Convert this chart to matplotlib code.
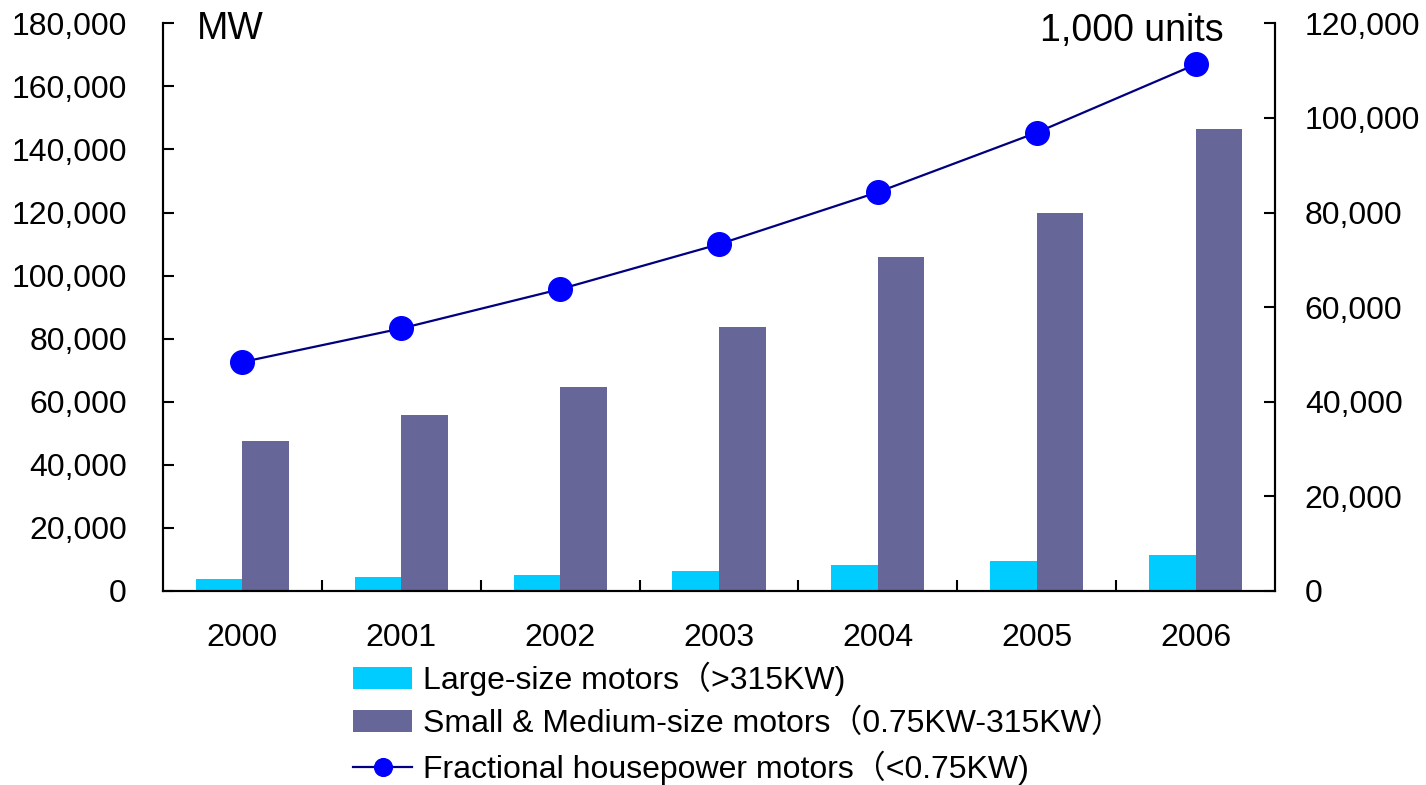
import matplotlib
matplotlib.use("Agg")
import matplotlib.pyplot as plt
import numpy as np
from matplotlib.ticker import FuncFormatter, FixedLocator

plt.rcParams['font.family'] = ['Liberation Sans', 'Noto Sans CJK SC', 'DejaVu Sans']

years = ["2000", "2001", "2002", "2003", "2004", "2005", "2006"]
largeMW = [3800, 4400, 5100, 6300, 8200, 9500, 11400]
smallMediumMW = [47500, 55800, 64700, 83700, 105900, 119800, 146500]
fractionalUnits = [48400, 55500, 63800, 73300, 84300, 96900, 111300]

labelLarge = "Large-size motors（>315KW)"
labelSmall = "Small & Medium-size motors（0.75KW-315KW）"
labelFrac = "Fractional housepower motors（<0.75KW)"

fs = 23
fig = plt.figure(figsize=(14.26, 7.85), dpi=100)
ax = fig.add_axes([163 / 1426, 1 - 591 / 785, (1275 - 163) / 1426, (591 - 23.3) / 785])
ax2 = ax.twinx()

x = np.arange(len(years))
barWidth = 0.293
b1 = ax.bar(x - barWidth / 2, largeMW, width=barWidth, color="#00CCFF", label=labelLarge)
b2 = ax.bar(x + barWidth / 2, smallMediumMW, width=barWidth, color="#666699", label=labelSmall)
l1, = ax2.plot(x, fractionalUnits, color="#000080", linewidth=1.6, marker="o",
               markersize=17, markerfacecolor="#0000FF", markeredgecolor="#0000FF",
               label=labelFrac)

ax.set_xlim(-0.5, len(years) - 0.5)
ax.set_ylim(0, 180000)
ax2.set_ylim(0, 120000)
ax.set_yticks(np.arange(0, 180001, 20000))
ax2.set_yticks(np.arange(0, 120001, 20000))
fmt = FuncFormatter(lambda v, p: f"{int(v):,}")
ax.yaxis.set_major_formatter(fmt)
ax2.yaxis.set_major_formatter(fmt)

ax.set_xticks(x)
ax.set_xticklabels(years)
ax.xaxis.set_minor_locator(FixedLocator(np.arange(0.5, len(years) - 1, 1.0)))
ax.tick_params(axis="x", which="major", length=0, pad=23, labelsize=fs)
ax.tick_params(axis="x", which="minor", direction="in", length=8, width=1.5)
ax.tick_params(axis="y", direction="in", length=8, width=1.5, pad=26, labelsize=fs)
ax2.tick_params(axis="y", direction="in", length=8, width=1.5, pad=21.5, labelsize=fs)

for a in (ax, ax2):
    a.spines["top"].set_visible(False)
    for s in ("left", "right", "bottom"):
        a.spines[s].set_linewidth(1.5)

ax.text(197 / 1426, 1 - 29 / 785, "MW", transform=fig.transFigure, fontsize=27,
        va="center", ha="left")
ax.text(1224 / 1426, 1 - 31 / 785, "1,000 units", transform=fig.transFigure, fontsize=27,
        va="center", ha="right")

fig.legend([b1, b2, l1], [labelLarge, labelSmall, labelFrac], loc="upper left",
           bbox_to_anchor=(353 / 1426, 1 - 662 / 785), frameon=False, fontsize=fs,
           borderpad=0, borderaxespad=0, handlelength=1.85, handletextpad=0.34,
           labelspacing=0.38, markerscale=0.75)

fig.savefig("out.png", dpi=100)
